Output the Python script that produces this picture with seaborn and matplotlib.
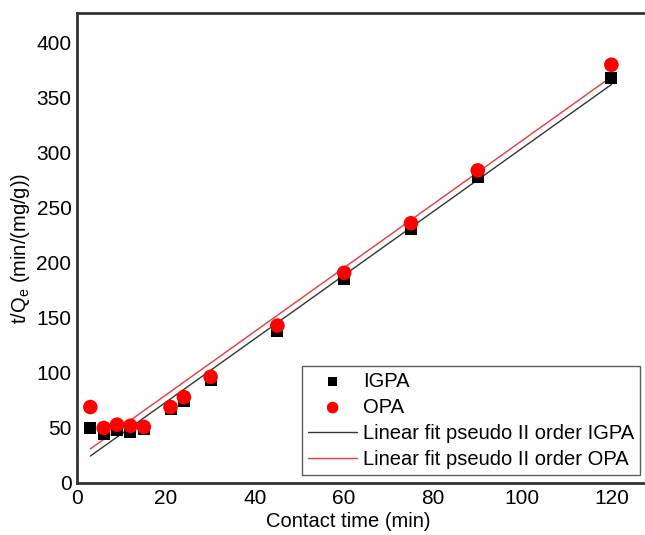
import matplotlib
matplotlib.use("Agg")
import matplotlib.pyplot as plt
import seaborn as sns
import pandas as pd

# =========================
# DADES (llegides del gràfic)
# =========================
temps = [3, 6, 9, 12, 15, 21, 24, 30, 45, 60, 75, 90, 120]
igpa = [50, 44.5, 48, 46.5, 49, 67, 74.5, 93.5, 138, 185, 231, 278, 368]
opa = [69, 50, 53, 52, 51, 69, 78, 96.5, 143, 191, 236, 284, 380]

# extrems de les rectes d'ajust (pseudo II ordre)
fit_x = [3, 120]
fit_igpa = [24.5, 362]
fit_opa = [31, 369]

df_igpa = pd.DataFrame({"t": temps, "q": igpa})
df_opa = pd.DataFrame({"t": temps, "q": opa})

sns.set_style("white", rc={"text.color": "black", "axes.labelcolor": "black",
                           "xtick.color": "black", "ytick.color": "black"})
plt.rcParams["font.family"] = ["Liberation Sans", "DejaVu Sans"]

fig = plt.figure(figsize=(6.45, 5.35), dpi=100)
ax_w = 1 - 77 / 645 + 0.01
ax = fig.add_axes([77 / 645, 52 / 535, ax_w, 470 / 535])
ax_px = ax_w * 645

sns.scatterplot(data=df_igpa, x="t", y="q", marker="s", color="black", s=75,
                edgecolor="none", label="IGPA", ax=ax, zorder=3)
sns.scatterplot(data=df_opa, x="t", y="q", marker="o", color="red", s=110,
                edgecolor="none", label="OPA", ax=ax, zorder=4)
ax.plot(fit_x, fit_igpa, color="#333333", lw=1.0, label="Linear fit pseudo II order IGPA", zorder=2)
ax.plot(fit_x, fit_opa, color="#e8393a", lw=1.0, label="Linear fit pseudo II order OPA", zorder=2)

ax.set_xlim(0, 129)
ax.set_ylim(0, 427)
ax.set_xticks(range(0, 121, 20))
ax.set_yticks(range(0, 401, 50))
ax.tick_params(axis="both", length=0, labelsize=15, pad=4, labelcolor="black")

for side in ["left", "bottom", "top"]:
    ax.spines[side].set_linewidth(2)
    ax.spines[side].set_color("#333333")
ax.spines["right"].set_visible(False)

ax.set_xlabel("Contact time (min)", fontsize=14.5)
ax.set_ylabel("t/Q$_\\mathregular{e}$ (min/(mg/g))", fontsize=14.5)
ax.xaxis.set_label_coords((348 - 77) / ax_px, -(512 - 483) / 470)
ax.yaxis.set_label_coords(-(77 - 32) / ax_px, 0.5)

leg = ax.legend(loc="lower right", bbox_to_anchor=((640 - 77) / ax_px, 0.017), fontsize=14.5,
                frameon=True, fancybox=False, handlelength=2.4, handletextpad=0.3,
                borderpad=0.3, labelspacing=0.35, borderaxespad=0, markerscale=0.8)
leg.get_frame().set_edgecolor("#333333")
leg.get_frame().set_linewidth(1.0)

fig.savefig("out.png", dpi=100)
